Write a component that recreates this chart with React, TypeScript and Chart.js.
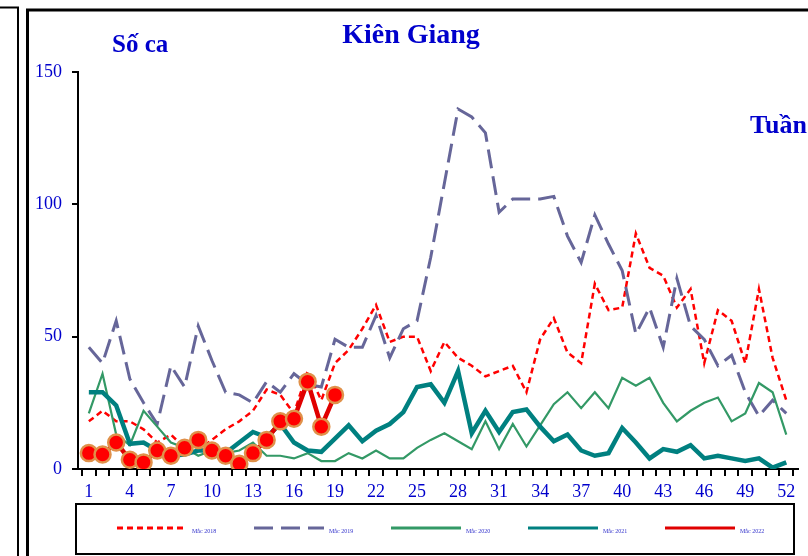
import React, { useEffect, useRef } from 'react';
import { Chart, registerables } from 'chart.js';

Chart.register(...registerables);

// ---- data ----
const weeks = [1,2,3,4,5,6,7,8,9,10,11,12,13,14,15,16,17,18,19,20,21,22,23,24,25,26,27,28,29,30,31,32,33,34,35,36,37,38,39,40,41,42,43,44,45,46,47,48,49,50,51,52];
const xTickLabels = [1,4,7,10,13,16,19,22,25,28,31,34,37,40,43,46,49,52];
const yTicks = [0,50,100,150];

const seriesNames = ['Mắc 2018','Mắc 2019','Mắc 2020','Mắc 2021','Mắc 2022'];

const cases2018 = [18,22,18,18,15,10,13,8,7,11,15,18,22,30,28,21,37,26,40,45,53,62,48,50,50,37,48,42,39,35,37,39,29,49,57,44,40,70,60,61,89,76,73,61,68,40,60,56,40,68,42,26];
const cases2019 = [46,40,56,34,25,17,39,31,54,41,29,28,25,33,29,36,32,31,49,46,46,58,42,53,56,80,108,136,133,127,97,102,102,102,103,88,78,96,85,75,51,61,46,72,54,49,39,43,29,20,26,21];
const cases2020 = [21,36,13,9,22,16,10,8,5,7,6,7,10,5,5,4,6,3,3,6,4,7,4,4,8,11,13.5,10.5,7.5,18,7.5,17,8.5,16.5,24.5,29,23,29,23,34.5,31.5,34.5,25,18,22,25,27,18,21,32.5,29,13];
const cases2021 = [29,29,24,9.5,10,7,5,5.5,7,7,6,10,14,12,17,10,7,6.5,11.5,16.5,10.5,14.5,17,21.5,31,32,25,37,13.5,22,14,21.5,22.5,16,10.5,13,7,5,6,15.5,10,4,7.5,6.5,9,4,5,4,3,4,0.5,2.5];
const cases2022 = [6,5.5,10,3.5,2.5,7,5,8,11,7,5,2,6,11,18,19,33,16,28];

const BLUE = '#0000CC';
const SERIF = '"Liberation Serif", "Times New Roman", serif';

const toPoints = (vals: number[]) => vals.map((v, i) => ({ x: weeks[i], y: v }));

const framePlugin = {
  id: 'frameAndLegend',
  afterDraw(chart: any) {
    const ctx = chart.ctx as CanvasRenderingContext2D;
    ctx.save();
    // left neighbour frame
    ctx.strokeStyle = '#000';
    ctx.lineWidth = 2;
    ctx.beginPath();
    ctx.moveTo(0, 7.5); ctx.lineTo(18, 7.5); ctx.lineTo(18, 560);
    ctx.stroke();
    // main frame
    ctx.lineWidth = 3;
    ctx.beginPath();
    ctx.moveTo(27.5, 560); ctx.lineTo(27.5, 10); ctx.lineTo(812, 10);
    ctx.stroke();
    // legend box
    ctx.lineWidth = 2;
    ctx.strokeRect(76, 504, 718, 50);

    // titles
    ctx.fillStyle = BLUE;
    ctx.textBaseline = 'alphabetic';
    ctx.font = `bold 28px ${SERIF}`;
    ctx.textAlign = 'center';
    ctx.fillText('Kiên Giang', 411, 43);
    ctx.textAlign = 'left';
    ctx.font = `bold 25px ${SERIF}`;
    ctx.fillText('Số ca', 112, 52);
    ctx.font = `bold 26px ${SERIF}`;
    ctx.fillText('Tuần', 750, 133);

    // legend items
    chart.data.datasets.forEach((ds: any, i: number) => {
      const x0 = 117 + i * 137;
      const y = 528;
      ctx.save();
      ctx.strokeStyle = ds.borderColor;
      ctx.lineWidth = 3;
      ctx.lineCap = 'butt';
      ctx.setLineDash(ds.borderDash || []);
      ctx.beginPath();
      ctx.moveTo(x0, y); ctx.lineTo(x0 + 70, y);
      ctx.stroke();
      ctx.restore();
      ctx.fillStyle = '#3333CC';
      ctx.font = `6px ${SERIF}`;
      ctx.textAlign = 'left';
      ctx.textBaseline = 'middle';
      ctx.fillText(ds.label, x0 + 75, y + 3);
    });
    ctx.restore();
  },
};

export default function App() {
  const ref = useRef<HTMLCanvasElement>(null);
  useEffect(() => {
    document.body.style.margin = '0';
    const labeled = new Set(xTickLabels);
    const xTickValues = [
      ...xTickLabels,
      ...weeks.map((w) => w - 0.5),
      weeks[weeks.length - 1] + 0.5,
    ].sort((a, b) => a - b);

    const chart = new Chart(ref.current as HTMLCanvasElement, {
      type: 'line',
      data: {
        datasets: [
          {
            label: seriesNames[0],
            data: toPoints(cases2018),
            borderColor: '#FF0000',
            borderWidth: 2.5,
            borderDash: [6, 4],
            pointRadius: 0,
            order: 5,
          },
          {
            label: seriesNames[1],
            data: toPoints(cases2019),
            borderColor: '#666699',
            borderWidth: 3,
            borderDash: [19, 8],
            pointRadius: 0,
            order: 4,
          },
          {
            label: seriesNames[2],
            data: toPoints(cases2020),
            borderColor: '#339966',
            borderWidth: 2.2,
            pointRadius: 0,
            order: 3,
          },
          {
            label: seriesNames[3],
            data: toPoints(cases2021),
            borderColor: '#008080',
            borderWidth: 4.5,
            pointRadius: 0,
            order: 2,
          },
          {
            label: seriesNames[4],
            data: toPoints(cases2022),
            borderColor: '#E00000',
            borderWidth: 4.5,
            pointRadius: 8,
            pointBorderWidth: 2.5,
            pointBackgroundColor: '#FF0000',
            pointBorderColor: '#E0914A',
            order: 1,
          },
        ] as any,
      },
      options: {
        animation: false,
        responsive: false,
        devicePixelRatio: 1,
        layout: { padding: { top: 72, left: 0, right: 0, bottom: 56 } },
        plugins: {
          legend: { display: false },
          title: { display: false },
          tooltip: { enabled: false },
        },
        elements: { line: { tension: 0 } },
        scales: {
          x: {
            type: 'linear',
            min: 0.207,
            max: 52.82,
            afterBuildTicks: (scale: any) => {
              scale.ticks = xTickValues.map((v) => ({ value: v }));
            },
            afterFit: (scale: any) => {
              scale.height = 31;
            },
            ticks: {
              autoSkip: false,
              maxRotation: 0,
              minRotation: 0,
              padding: 5,
              color: BLUE,
              font: { family: SERIF, size: 18 },
              callback: (v: any) => (labeled.has(Number(v)) ? String(v) : ''),
            },
            grid: {
              drawOnChartArea: false,
              drawTicks: true,
              tickLength: 7,
              lineWidth: 2,
              color: (c: any) =>
                c.tick && Number.isInteger(c.tick.value) ? 'rgba(0,0,0,0)' : '#000',
            },
            border: { display: true, color: '#000', width: 2 },
          },
          y: {
            type: 'linear',
            min: 0,
            max: 150,
            afterBuildTicks: (scale: any) => {
              scale.ticks = yTicks.map((v) => ({ value: v }));
            },
            afterFit: (scale: any) => {
              scale.width = 78;
            },
            ticks: {
              padding: 10,
              color: BLUE,
              font: { family: SERIF, size: 18 },
            },
            grid: {
              drawOnChartArea: false,
              tickLength: 6,
              lineWidth: 2,
              color: '#000',
            },
            border: { display: true, color: '#000', width: 2 },
          },
        },
      } as any,
      plugins: [framePlugin],
    });
    return () => chart.destroy();
  }, []);

  return (
    <div style={{ width: 808, height: 556, position: 'relative', background: '#fff' }}>
      <canvas ref={ref} width={808} height={556} style={{ display: 'block' }} />
    </div>
  );
}
